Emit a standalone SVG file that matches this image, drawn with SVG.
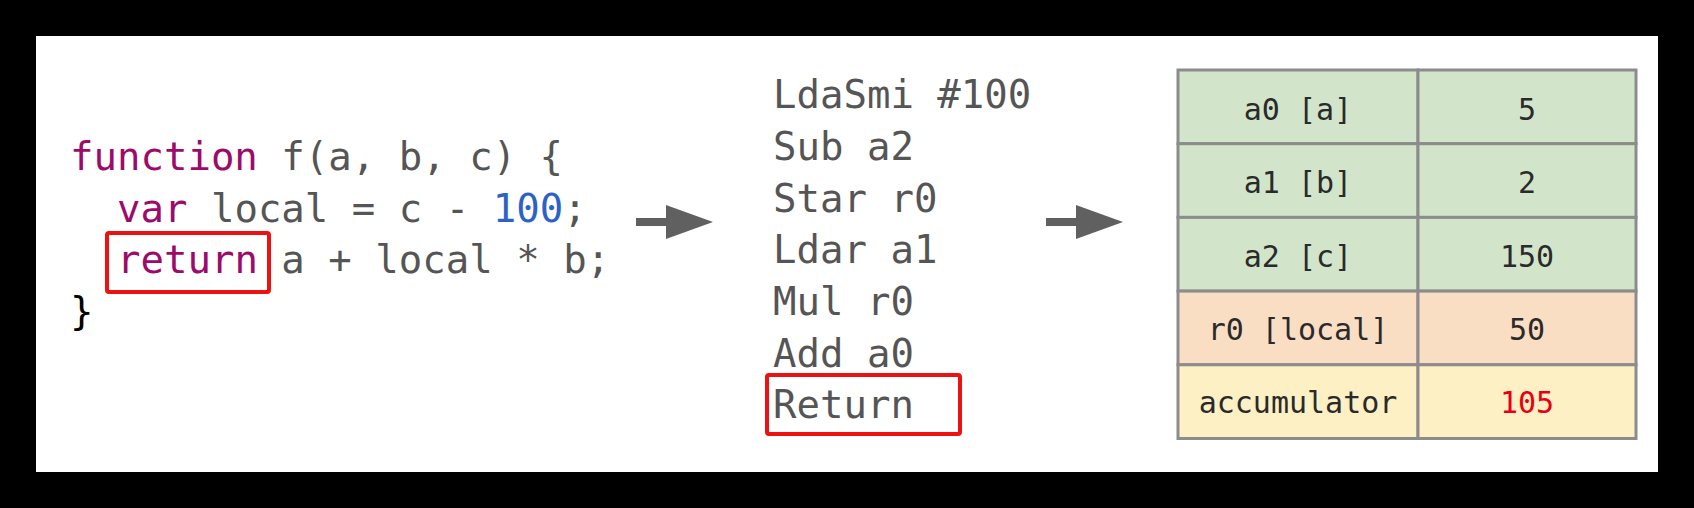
<svg xmlns="http://www.w3.org/2000/svg" width="1694" height="508" viewBox="0 0 1694 508">
<style>
.code{font-family:"DejaVu Sans Mono","Liberation Mono",monospace;font-size:39px;fill:#555555}
.kw{fill:#9c0a6c}
.num{fill:#2c62c8}
.hl{fill:none;stroke:#ee1111;stroke-width:4}
.cell{stroke:#8c8c8c;stroke-width:3}
.g{fill:#d2e5ca}
.o{fill:#f9dec3}
.y{fill:#fef0c5}
.tt{font-family:"DejaVu Sans Mono","Liberation Mono",monospace;font-size:30px;fill:#2a2a2a;text-anchor:middle}
.arrow{stroke:#606060;stroke-width:8}
</style>
<defs>
<marker id="ah" viewBox="0 0 47 34" markerWidth="47" markerHeight="34" refX="0" refY="17" markerUnits="userSpaceOnUse" orient="auto">
<path d="M0,0 L47,17 L0,34 Z" fill="#606060"/>
</marker>
</defs>
<rect x="0" y="0" width="1694" height="508" fill="#000"/>
<rect x="36" y="36" width="1622" height="436" fill="#fff"/>

<g id="source">
<text class="code" x="70" y="170"><tspan class="kw">function</tspan> f(a, b, c) {</text>
<text class="code" x="117" y="222"><tspan class="kw">var</tspan> local = c - <tspan class="num">100</tspan>;</text>
<text class="code" x="117" y="273"><tspan class="kw">return</tspan> a + local * b;</text>
<text class="code" x="70" y="325" style="fill:#000">}</text>
<rect class="hl" x="107" y="233" width="162" height="59" rx="2"/>
</g>

<g id="bytecode">
<text class="code" x="773" y="108">LdaSmi #100</text>
<text class="code" x="773" y="160">Sub a2</text>
<text class="code" x="773" y="212">Star r0</text>
<text class="code" x="773" y="263">Ldar a1</text>
<text class="code" x="773" y="315">Mul r0</text>
<text class="code" x="773" y="367">Add a0</text>
<text class="code" x="773" y="418">Return</text>
<rect class="hl" x="767" y="375" width="193" height="59" rx="2"/>
</g>

<g id="registers">
<rect class="cell g" x="1178" y="70" width="240" height="73.7"/>
<rect class="cell g" x="1418" y="70" width="218" height="73.7"/>
<rect class="cell g" x="1178" y="143.7" width="240" height="73.7"/>
<rect class="cell g" x="1418" y="143.7" width="218" height="73.7"/>
<rect class="cell g" x="1178" y="217.4" width="240" height="73.7"/>
<rect class="cell g" x="1418" y="217.4" width="218" height="73.7"/>
<rect class="cell o" x="1178" y="291.1" width="240" height="73.7"/>
<rect class="cell o" x="1418" y="291.1" width="218" height="73.7"/>
<rect class="cell y" x="1178" y="364.8" width="240" height="73.7"/>
<rect class="cell y" x="1418" y="364.8" width="218" height="73.7"/>
<text class="tt" x="1298" y="120">a0 [a]</text>
<text class="tt" x="1527" y="120">5</text>
<text class="tt" x="1298" y="193">a1 [b]</text>
<text class="tt" x="1527" y="193">2</text>
<text class="tt" x="1298" y="267">a2 [c]</text>
<text class="tt" x="1527" y="267">150</text>
<text class="tt" x="1298" y="340">r0 [local]</text>
<text class="tt" x="1527" y="340">50</text>
<text class="tt" x="1298" y="413">accumulator</text>
<text class="tt" x="1527" y="413" style="fill:#e60012">105</text>
</g>

<g id="connectors">
<line class="arrow" x1="636" y1="222" x2="666" y2="222" marker-end="url(#ah)"/>
<line class="arrow" x1="1046" y1="222" x2="1076" y2="222" marker-end="url(#ah)"/>
</g>
</svg>
